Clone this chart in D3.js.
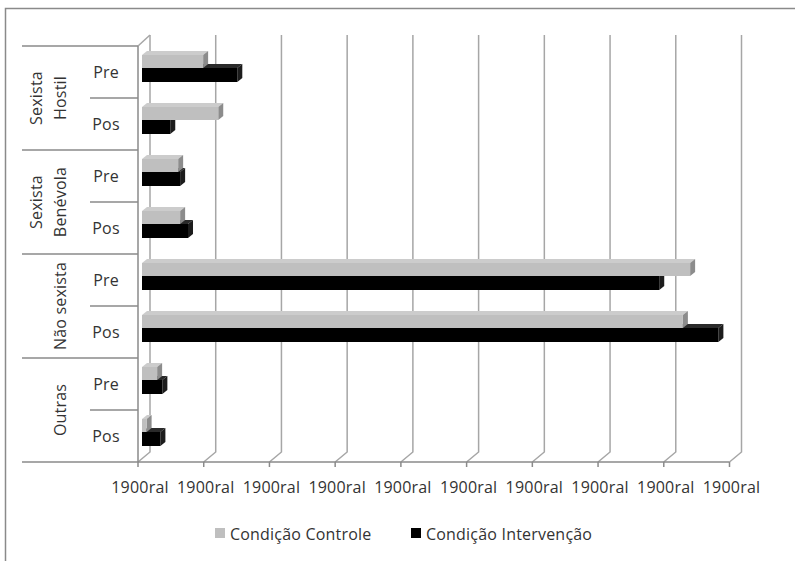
<!DOCTYPE html>
<html>
<head>
<meta charset="utf-8">
<script src="https://cdn.jsdelivr.net/npm/d3@7.9.0/dist/d3.min.js"></script>
<style>
  body { margin: 0; background: #fff; }
  text { font-family: "Open Sans", sans-serif; font-size: 16px; fill: #333; letter-spacing: 0.2px; }
</style>
</head>
<body>
<div id="chart"></div>
<script>
// data (percent)
const groups = ['Sexista Hostil', 'Sexista Benévola', 'Não sexista', 'Outras'];
const groupLines = [['Sexista', 'Hostil'], ['Sexista', 'Benévola'], ['Não sexista'], ['Outras']];
const phases = ['Pre', 'Pos'];
const controle = [9.3, 11.6, 5.5, 5.8, 83.4, 82.3, 2.3, 0.7];
const intervencao = [14.5, 4.3, 5.8, 7.0, 78.7, 87.7, 3.1, 2.8];
const tickValues = [0, 10, 20, 30, 40, 50, 60, 70, 80, 90];
const tickLabel = '1900ral';
const seriesNames = ['Condição Controle', 'Condição Intervenção'];

const width = 795, height = 561;
const plot = { top: 46, bottom: 462, left: 138 };
const DX = 12, DY = -10;      // wall depth
const BDX = 5, BDY = -4;      // bar depth
const barOff = 4;             // bars sit a little behind the front plane

const rows = [];
groups.forEach((g, gi) => phases.forEach((p, pi) => rows.push({ key: g + '|' + p, group: g, phase: p, i: gi * 2 + pi })));

const svg = d3.select('#chart').append('svg')
  .attr('width', width).attr('height', height);

svg.append('rect').attr('width', width).attr('height', height).attr('fill', '#fff');

// outer frame (only top and left visible)
svg.append('path').attr('d', `M5.5,${height} V8.5 H${width}`)
  .attr('fill', 'none').attr('stroke', '#8a8a8a').attr('stroke-width', 1.5);

const x = d3.scaleLinear().domain([0, 90]).range([plot.left, 729.5]);
const y = d3.scaleBand().domain(rows.map(d => d.key)).range([plot.top, plot.bottom]).padding(0);

// gridlines on back wall + floor diagonals
const grid = svg.append('g').attr('stroke', '#a6a6a6').attr('stroke-width', 1.5).attr('fill', 'none');
tickValues.forEach(t => {
  const xf = x(t);
  grid.append('path').attr('d', `M${xf},${plot.bottom} L${xf + DX},${plot.bottom + DY} V${plot.top + DY - 1}`);
});
// top-left wall edge
grid.append('path').attr('d', `M${plot.left},${plot.top} L${plot.left + DX},${plot.top + DY - 1}`);

// value axis (front floor edge) with ticks and labels
const axis = svg.append('g');
axis.append('path').attr('d', `M${plot.left},${plot.bottom} H${x(90)}`)
  .attr('stroke', '#8a8a8a').attr('stroke-width', 1.5);
axis.selectAll('line.tick').data(tickValues).join('line')
  .attr('x1', d => x(d)).attr('x2', d => x(d))
  .attr('y1', plot.bottom).attr('y2', plot.bottom + 5)
  .attr('stroke', '#8a8a8a').attr('stroke-width', 1.5);
axis.selectAll('text').data(tickValues).join('text')
  .attr('x', d => x(d) + 2).attr('y', 493)
  .attr('text-anchor', 'middle')
  .text(tickLabel);

// category axis
const cat = svg.append('g').attr('stroke', '#8a8a8a').attr('stroke-width', 1.5);
cat.append('line').attr('x1', plot.left).attr('x2', plot.left).attr('y1', plot.top).attr('y2', plot.bottom);
rows.forEach((r, i) => {
  const yt = y(r.key);
  const x0 = r.phase === 'Pre' ? 22 : 90;
  cat.append('line').attr('x1', x0).attr('x2', plot.left).attr('y1', yt).attr('y2', yt);
});
cat.append('line').attr('x1', 22).attr('x2', plot.left).attr('y1', plot.bottom).attr('y2', plot.bottom);

svg.selectAll('text.phase').data(rows).join('text')
  .attr('class', 'phase')
  .attr('x', 106).attr('y', d => y(d.key) + y.bandwidth() / 2 + 6)
  .attr('text-anchor', 'middle')
  .text(d => d.phase);

groups.forEach((g, gi) => {
  const yc = y(g + '|Pre') + y.bandwidth();
  const lines = groupLines[gi];
  const xs = lines.length === 2 ? [42, 66] : [66];
  lines.forEach((ln, li) => {
    svg.append('text')
      .attr('transform', `translate(${xs[li]},${yc}) rotate(-90)`)
      .attr('text-anchor', 'middle')
      .text(ln);
  });
});

// 3D bars
function drawBar(g, x1, yT, yB, front, top, side) {
  const x0 = x(0) + barOff;
  g.append('path').attr('fill', top)
    .attr('d', `M${x0},${yT} L${x0 + BDX},${yT + BDY} L${x1 + BDX},${yT + BDY} L${x1},${yT}Z`);
  g.append('path').attr('fill', side)
    .attr('d', `M${x1},${yT} L${x1 + BDX},${yT + BDY} L${x1 + BDX},${yB + BDY} L${x1},${yB}Z`);
  g.append('rect').attr('fill', front)
    .attr('x', x0).attr('y', yT).attr('width', Math.max(0, x1 - x0)).attr('height', yB - yT);
}

const bars = svg.append('g');
rows.forEach((r, i) => {
  const yt = y(r.key);
  drawBar(bars, x(intervencao[i]) + barOff, yt + 22, yt + 36, '#000000', '#2a2a2a', '#1c1c1c');
  drawBar(bars, x(controle[i]) + barOff, yt + 9, yt + 22, '#bfbfbf', '#cccccc', '#8c8c8c');
});

// legend
const legend = svg.append('g');
const legendItems = [
  { name: seriesNames[0], color: '#bfbfbf', x: 215 },
  { name: seriesNames[1], color: '#000000', x: 411 }
];
legendItems.forEach(d => {
  legend.append('rect').attr('x', d.x).attr('y', 528).attr('width', 10).attr('height', 10).attr('fill', d.color);
  legend.append('text').attr('x', d.x + 15).attr('y', 540).text(d.name);
});
</script>
</body>
</html>
